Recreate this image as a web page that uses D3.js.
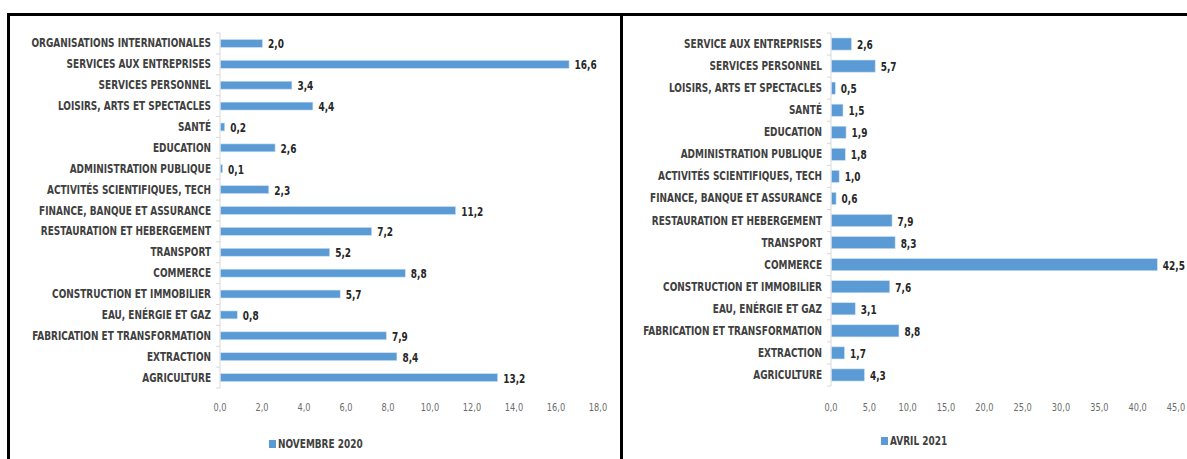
<!DOCTYPE html>
<html>
<head>
<meta charset="utf-8">
<script src="https://cdn.jsdelivr.net/npm/d3@7"></script>
<style>
  body { margin: 0; background: #fff; }
  svg { display: block; }
  text { font-family: "DejaVu Sans Condensed", "Liberation Sans", sans-serif; }
  .cat { font-weight: bold; font-size: 12px; fill: #404040; }
  .val { font-weight: bold; font-size: 12px; fill: #262626; }
  .tick-lbl { font-size: 11px; fill: #6b6b6b; }
  .legend { font-weight: bold; font-size: 12px; fill: #404040; }
</style>
</head>
<body>
<div id="chart"></div>
<script>
// left panel: novembre 2020 (top to bottom)
const catsNov = [
    "ORGANISATIONS INTERNATIONALES", "SERVICES AUX ENTREPRISES", "SERVICES PERSONNEL",
    "LOISIRS, ARTS ET SPECTACLES", "SANTÉ", "EDUCATION", "ADMINISTRATION PUBLIQUE",
    "ACTIVITÉS SCIENTIFIQUES, TECH", "FINANCE, BANQUE ET ASSURANCE", "RESTAURATION ET HEBERGEMENT",
    "TRANSPORT", "COMMERCE", "CONSTRUCTION ET IMMOBILIER", "EAU, ENÉRGIE ET GAZ",
    "FABRICATION ET TRANSFORMATION", "EXTRACTION", "AGRICULTURE"
];
const valsNov = [2.0, 16.6, 3.4, 4.4, 0.2, 2.6, 0.1, 2.3, 11.2, 7.2, 5.2, 8.8, 5.7, 0.8, 7.9, 8.4, 13.2];
const ticksNov = [0, 2, 4, 6, 8, 10, 12, 14, 16, 18];

// right panel: avril 2021 (top to bottom)
const catsAvr = [
    "SERVICE AUX ENTREPRISES", "SERVICES PERSONNEL", "LOISIRS, ARTS ET SPECTACLES", "SANTÉ",
    "EDUCATION", "ADMINISTRATION PUBLIQUE", "ACTIVITÉS SCIENTIFIQUES, TECH", "FINANCE, BANQUE ET ASSURANCE",
    "RESTAURATION ET HEBERGEMENT", "TRANSPORT", "COMMERCE", "CONSTRUCTION ET IMMOBILIER",
    "EAU, ENÉRGIE ET GAZ", "FABRICATION ET TRANSFORMATION", "EXTRACTION", "AGRICULTURE"
];
const valsAvr = [2.6, 5.7, 0.5, 1.5, 1.9, 1.8, 1.0, 0.6, 7.9, 8.3, 42.5, 7.6, 3.1, 8.8, 1.7, 4.3];
const ticksAvr = [0, 5, 10, 15, 20, 25, 30, 35, 40, 45];

const width = 1187, height = 459;
const barColor = "#5b9bd5";
const squeeze = 0.83; // narrow the condensed font down to the look of the original
const fmt = (v) => d3.format(".1f")(v).replace(".", ",");

const svg = d3.select("#chart").append("svg")
    .attr("width", width)
    .attr("height", height);

// frame lines
svg.append("line").attr("x1", 7).attr("x2", width).attr("y1", 14.5).attr("y2", 14.5)
    .attr("stroke", "#000").attr("stroke-width", 3);
svg.append("line").attr("x1", 8.5).attr("x2", 8.5).attr("y1", 13).attr("y2", height)
    .attr("stroke", "#000").attr("stroke-width", 3);
svg.append("line").attr("x1", 621.5).attr("x2", 621.5).attr("y1", 13).attr("y2", height)
    .attr("stroke", "#000").attr("stroke-width", 3);

const place = (x, y) => `translate(${x},${y}) scale(${squeeze},1)`;

function drawPanel(cats, vals, ticks, opt) {
    const g = svg.append("g");

    const x = d3.scaleLinear()
        .domain([0, ticks[ticks.length - 1]])
        .range([opt.x0, opt.x1]);

    const y = d3.scaleBand()
        .domain(cats)
        .range([opt.y0, opt.y1])
        .paddingInner(opt.pad)
        .paddingOuter(opt.pad / 2);

    // category boundary ticks
    const edges = cats.map((c) => y(c) - y.step() * y.paddingInner() / 2);
    edges.push(edges[edges.length - 1] + y.step());
    g.selectAll(".cat-tick")
        .data(edges)
        .enter()
        .append("line")
        .attr("x1", opt.x0 - 4)
        .attr("x2", opt.x0)
        .attr("y1", (d) => d)
        .attr("y2", (d) => d)
        .attr("stroke", "#d9d9d9");

    g.append("line")
        .attr("x1", opt.x0).attr("x2", opt.x0)
        .attr("y1", edges[0]).attr("y2", edges[edges.length - 1])
        .attr("stroke", "#d9d9d9");

    g.selectAll(".bar")
        .data(vals)
        .enter()
        .append("rect")
        .attr("x", x(0) + 0.5)
        .attr("y", (d, i) => y(cats[i]))
        .attr("width", (d) => Math.max(x(d) - x(0), 1.5))
        .attr("height", y.bandwidth())
        .attr("fill", barColor)
        .attr("stroke", "#cfe0f2")
        .attr("stroke-width", 0.6);

    g.selectAll(".val")
        .data(vals)
        .enter()
        .append("text")
        .attr("class", "val")
        .attr("transform", (d, i) => place(Math.max(x(d), x(0) + 1.5) + 6, y(cats[i]) + y.bandwidth() / 2 + 5))
        .text((d) => fmt(d));

    g.selectAll(".cat")
        .data(cats)
        .enter()
        .append("text")
        .attr("class", "cat")
        .attr("text-anchor", "end")
        .attr("transform", (d) => place(opt.x0 - 9, y(d) + y.bandwidth() / 2 + 4))
        .text((d) => d);

    g.selectAll(".tick-lbl")
        .data(ticks)
        .enter()
        .append("text")
        .attr("class", "tick-lbl")
        .attr("text-anchor", "middle")
        .attr("transform", (d) => place(x(d), opt.tickY))
        .text((d) => fmt(d));

    const lg = g.append("g").attr("transform", `translate(${opt.legendX}, ${opt.legendY})`);
    lg.append("rect").attr("x", 0).attr("y", -8).attr("width", 7).attr("height", 8).attr("fill", barColor);
    lg.append("text").attr("class", "legend").attr("transform", place(9, 0)).text(opt.legend);
}

drawPanel(catsNov, valsNov, ticksNov, {
    x0: 220, x1: 598, y0: 33, y1: 388, pad: 0.62,
    tickY: 411, legendX: 269, legendY: 448, legend: "NOVEMBRE 2020"
});

drawPanel(catsAvr, valsAvr, ticksAvr, {
    x0: 831, x1: 1176, y0: 33, y1: 386, pad: 0.45,
    tickY: 411, legendX: 881, legendY: 445, legend: "AVRIL 2021"
});
</script>
</body>
</html>
